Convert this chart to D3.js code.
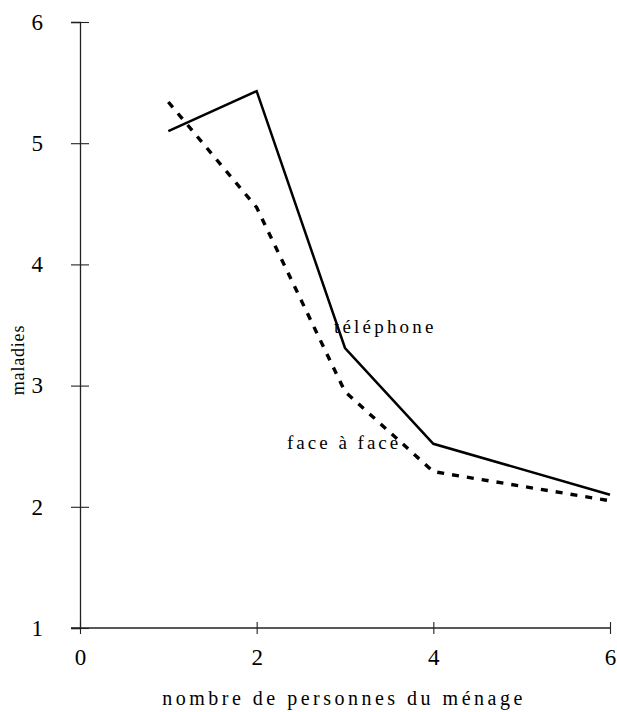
<!DOCTYPE html>
<html>
<head>
<meta charset="utf-8">
<script src="https://cdnjs.cloudflare.com/ajax/libs/d3/7.8.5/d3.min.js"></script>
<style>
  body { margin: 0; background: #fff; }
  svg text { font-family: "Liberation Serif", "Times New Roman", serif; fill: #000; }
</style>
</head>
<body>
<div id="wrap"></div>
<script>
// nombre de personnes du ménage
var menage = [1, 2, 3, 4, 6];
var telephone = [5.1, 5.43, 3.31, 2.52, 2.1];
var faceAFace = [5.34, 4.47, 2.95, 2.29, 2.05];
var xTicks = [0, 2, 4, 6];
var yTicks = [1, 2, 3, 4, 5, 6];

var width = 617,
    height = 712,
    serif = 'Liberation Serif';

var svg = d3.select('#wrap').append('svg')
      .attr('width', width)
      .attr('height', height)
      .attr('font-family', serif);

var x = d3.scaleLinear()
      .domain([0, 6])
      .range([80, 610]),
    y = d3.scaleLinear()
      .domain([1, 6])
      .range([628, 22]);

// axes, ticks crossing the line
var yAxis = svg.append('g')
  .attr('transform', 'translate(' + x(0) + ',0)')
  .call(d3.axisLeft(y).tickValues(yTicks).tickSize(9).tickPadding(28).tickFormat(d3.format('d')));
yAxis.selectAll('.tick line').attr('x1', 9);

var xAxis = svg.append('g')
  .attr('transform', 'translate(0,' + y(1) + ')')
  .call(d3.axisBottom(x).tickValues(xTicks).tickSize(6).tickPadding(15).tickFormat(d3.format('d')));
xAxis.selectAll('.tick line').attr('y1', -6);

svg.selectAll('g').attr('font-family', serif).attr('font-size', 23);
svg.selectAll('.domain').attr('stroke', '#222').attr('stroke-width', 1.3);
svg.selectAll('.tick line').attr('stroke', '#222').attr('stroke-width', 1.1);
svg.selectAll('.tick text').attr('fill', '#000');
// x axis line reaches a bit to the left of the y axis
xAxis.select('.domain').attr('d', 'M' + (x(0) - 9) + ',0H' + x(6));

var line = d3.line()
  .x(function(d){ return x(d[0]); })
  .y(function(d){ return y(d[1]); });

svg.append('path')
  .datum(menage.map(function(m, i){ return [m, faceAFace[i]]; }))
  .attr('fill', 'none')
  .attr('stroke', '#000')
  .attr('stroke-width', 3.4)
  .attr('stroke-dasharray', '7,8')
  .attr('d', line);

svg.append('path')
  .datum(menage.map(function(m, i){ return [m, telephone[i]]; }))
  .attr('fill', 'none')
  .attr('stroke', '#000')
  .attr('stroke-width', 2.5)
  .attr('stroke-linejoin', 'miter')
  .attr('d', line);

// line labels
svg.append('text')
  .attr('x', 334).attr('y', 333)
  .style('font-size', '19px')
  .style('letter-spacing', '3.2px')
  .text('téléphone');

svg.append('text')
  .attr('x', 287).attr('y', 449)
  .style('font-size', '19px')
  .style('letter-spacing', '3px')
  .text('face à face');

// axis titles
svg.append('text')
  .attr('x', 344).attr('y', 705)
  .attr('text-anchor', 'middle')
  .style('font-size', '20px')
  .style('letter-spacing', '3.5px')
  .text('nombre de personnes du ménage');

svg.append('text')
  .attr('transform', 'translate(24,360) rotate(-90)')
  .attr('text-anchor', 'middle')
  .style('font-size', '18px')
  .style('letter-spacing', '0.8px')
  .text('maladies');
</script>
</body>
</html>
